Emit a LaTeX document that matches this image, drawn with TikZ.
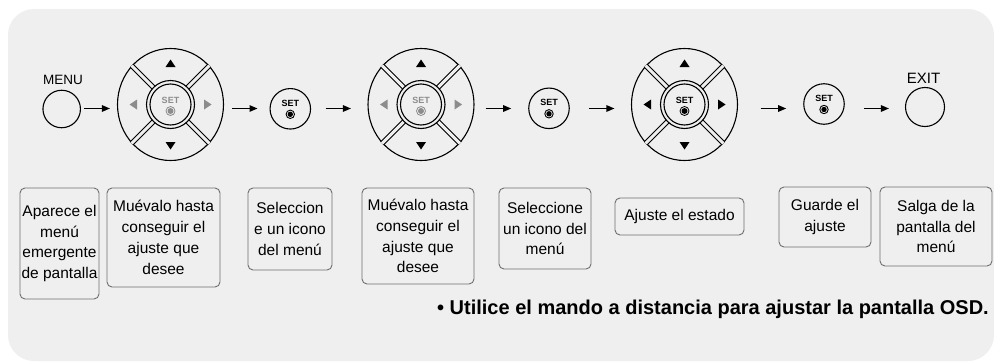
\documentclass[tikz,border=0pt]{standalone}
\usepackage{fontspec}
\setmainfont{Liberation Sans}
\usetikzlibrary{arrows.meta,shapes.geometric}
\definecolor{panelgray}{HTML}{EFEFEF}
\definecolor{boxline}{HTML}{6E6E6E}
\definecolor{keygray}{HTML}{8C8C8C}

\tikzset{
  btn/.style={circle, draw, line width=1.1pt, minimum size=40pt, inner sep=0pt},
  pad/.style={ellipse, draw, line width=1.1pt, minimum width=106pt, minimum height=112pt, inner sep=0pt},
  flow/.style={->, line width=1.3pt},
  infobox/.style={draw=boxline, line width=0.9pt, rounded corners=5pt, align=center, inner sep=0pt,
    font=\fontsize{15.5pt}{20.8pt}\selectfont},
  settxt/.style={font=\bfseries\fontsize{9pt}{9pt}\selectfont, inner sep=0pt},
}

\begin{document}
\begin{tikzpicture}[x=1pt, y=-1pt, >={Triangle[length=8pt,width=6.5pt]}]
    % 背景
    \useasboundingbox (0,0) rectangle (994,364);
    \fill[white] (0,0) rectangle (994,364);
    \fill[panelgray, rounded corners=26pt] (8,9) rectangle (994,361);

    % MENU / EXIT
    \node[btn, minimum size=37.5pt] (menu) at (61.7,109) {};
    \node[font=\fontsize{13.5pt}{14pt}\selectfont] (menutxt) at (63,80) {MENU};
    \node[btn, minimum size=39pt] (exitbtn) at (925,107) {};
    \node[font=\fontsize{15pt}{16pt}\selectfont] (exittxt) at (923.5,78.5) {EXIT};

    % 方向键
    \foreach \p/\x/\col in {padA/170.5/keygray, padB/421/keygray, padC/684.5/black} {
        \node[pad] (\p) at (\x,104.5) {};
        \foreach \a in {45,135,225,315}
            \draw[line width=1pt, double=panelgray, double distance=3pt]
                ([shift={(\a:24pt)}]\p.center) -- (\p.\a);
        \draw[line width=1.1pt] (\p.center) circle (24pt);
        \draw[line width=1.1pt] (\p.center) circle (20.5pt);
        % 上下左右
        \fill[shift={(\p.center)}] (0,-45) -- (5,-37.5) -- (-5,-37.5) -- cycle;
        \fill[shift={(\p.center)}] (0,45) -- (5,37.5) -- (-5,37.5) -- cycle;
        \fill[\col, shift={(\p.center)}] (-41,0) -- (-33.5,-5) -- (-33.5,5) -- cycle;
        \fill[\col, shift={(\p.center)}] (41,0) -- (33.5,-5) -- (33.5,5) -- cycle;
        % SET
        \node[settxt, text=\col] (\p-set) at ([shift={(0,-4.5)}]\p.center) {SET};
        \draw[\col, line width=0.8pt] ([shift={(0,6.5)}]\p.center) circle (4.5pt);
        \fill[\col] ([shift={(0,6.5)}]\p.center) circle (3pt);
    }

    % SET 键
    \foreach \s/\x/\y in {setA/290.3/108.8, setB/549/108.3, setC/824/104} {
        \node[btn, minimum size=40.5pt] (\s) at (\x,\y) {};
        \node[settxt] (\s-txt) at ([shift={(0,-5.5)}]\s.center) {SET};
        \draw[line width=0.9pt] ([shift={(0,5.5)}]\s.center) circle (4.2pt);
        \fill ([shift={(0,5.5)}]\s.center) circle (2.7pt);
    }

    % 箭头
    \foreach \a/\b/\s/\e in {menu/padA/3pt/7pt, padA/setA/8pt/12pt, setA/padB/14.5pt/16.5pt,
                             padB/setB/11pt/17pt, setB/padC/19pt/16.5pt, padC/setC/22.5pt/17pt,
                             setC/exitbtn/19pt/16pt}
        \draw[flow, shorten <=\s, shorten >=\e] (\a.east |- 0,108.5) -- (\b.west |- 0,108.5);

    % 说明框
    \node[infobox, minimum width=79pt, minimum height=111pt] (boxA) at (59.5,243.5)
        {Aparece el\\menú\\emergente\\de pantalla};
    \node[infobox, minimum width=113pt, minimum height=99pt] (boxB) at (163.5,237.5)
        {Muévalo hasta\\conseguir el\\ajuste que\\desee};
    \node[infobox, minimum width=84pt, minimum height=82pt] (boxC) at (290,229)
        {Seleccion\\e un icono\\del menú};
    \node[infobox, minimum width=112pt, minimum height=96pt] (boxD) at (418,236)
        {Muévalo hasta\\conseguir el\\ajuste que\\desee};
    \node[infobox, minimum width=92pt, minimum height=81pt] (boxE) at (545,228.5)
        {Seleccione\\un icono del\\menú};
    \node[infobox, minimum width=129pt, minimum height=37pt] (boxF) at (679.5,216.5)
        {Ajuste el estado};
    \node[infobox, minimum width=92pt, minimum height=60pt] (boxG) at (825,217)
        {Guarde el\\ajuste};
    \node[infobox, minimum width=112pt, minimum height=79pt] (boxH) at (936,226.5)
        {Salga de la\\pantalla del\\menú};

    % 备注
    \node[anchor=base east, inner sep=0pt, font=\bfseries\fontsize{20pt}{21pt}\selectfont] (nota) at (989,314)
        {• Utilice el mando a distancia para ajustar la pantalla OSD.};
\end{tikzpicture}
\end{document}
